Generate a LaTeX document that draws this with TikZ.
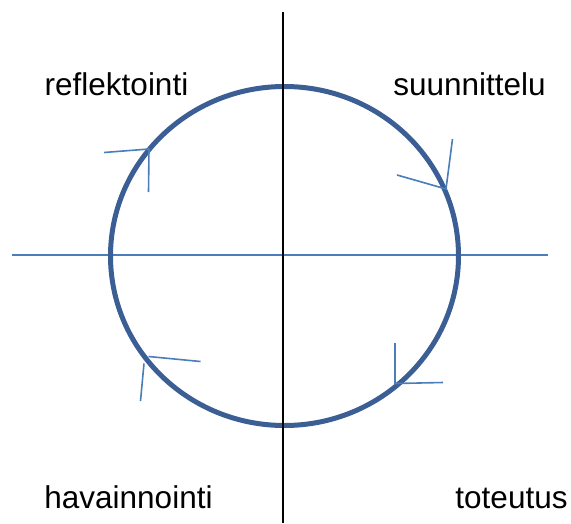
\documentclass[tikz,border=0pt]{standalone}
\usepackage{fontspec}
\setmainfont{Liberation Sans}
\usetikzlibrary{shapes.geometric}
\definecolor{circblue}{HTML}{3B5F94}
\definecolor{lineblue}{HTML}{4A7EBB}
\begin{document}
\begin{tikzpicture}[x=1pt,y=-1pt,
  lbl/.style={anchor=base,font=\fontsize{31.5}{36}\selectfont,inner sep=0pt},
  axisline/.style={lineblue,line width=1.5pt},
  tickline/.style={lineblue,line width=1.6pt},
  ring/.style={circblue,line width=5pt}]
\useasboundingbox (0,0) rectangle (571,523);
% axes
\coordinate (hl) at (12,255);
\coordinate (hr) at (548,255);
\coordinate (vt) at (283,12);
\coordinate (vb) at (283,523);
\draw[axisline] (hl) -- (hr);
% circle
\node[ring,draw,ellipse,minimum width=348pt,minimum height=339pt,inner sep=0pt] (c) at (284.5,256) {};
\draw[black,line width=1.4pt] (vt) -- (vb);
% marks
\coordinate (m1) at (149,149);
\coordinate (m1a) at (104,152.5);
\coordinate (m1b) at (148.5,192);
\coordinate (m2) at (446,189);
\coordinate (m2a) at (397,175);
\coordinate (m2b) at (452.5,139);
\coordinate (m3) at (395,383.5);
\coordinate (m3a) at (395,343);
\coordinate (m3b) at (443,382.5);
\coordinate (m4) at (148.5,356.5);
\coordinate (m4a) at (200.5,361.5);
\coordinate (m4c) at (144,363.5);
\coordinate (m4b) at (140.5,401);
\draw[tickline] (m1a) -- (m1) -- (m1b);
\draw[tickline] (m2a) -- (m2) -- (m2b);
\draw[tickline] (m3a) -- (m3) -- (m3b);
\draw[tickline] (m4) -- (m4a);
\draw[tickline] (m4c) -- (m4b);
% labels
\node[lbl] (refl) at (116.5,95) {reflektointi};
\node[lbl] (suun) at (469.5,95) {suunnittelu};
\node[lbl] (hav) at (128.5,508) {havainnointi};
\node[lbl] (tot) at (511.5,508) {toteutus};
\end{tikzpicture}
\end{document}
